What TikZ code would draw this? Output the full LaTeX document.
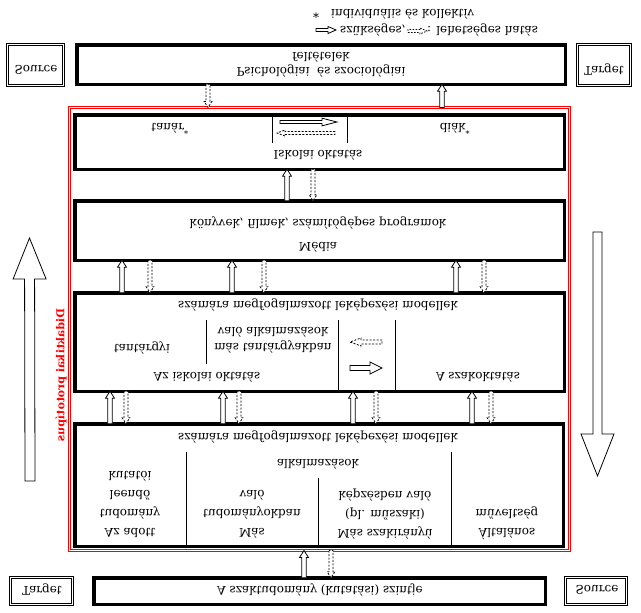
\documentclass[tikz,border=0pt]{standalone}
\usepackage{fontspec}
\setmainfont{DejaVu Serif}
\usetikzlibrary{calc}
\tikzstyle{box}=[draw,line width=3.5pt,inner sep=0pt,outer sep=0pt]
\tikzstyle{dbox}=[draw,double,double distance=1.4pt,line width=0.8pt,inner sep=0pt,outer sep=0pt]
\tikzstyle{txt}=[font=\fontsize{12}{15}\selectfont,align=center,inner sep=0pt]
\tikzstyle{col}=[txt,font=\fontsize{12}{19}\selectfont]
\tikzstyle{divider}=[line width=1pt]
\tikzset{blockarrow/.style n args={3}{draw,line width=0.8pt,fill=white,to path={
    ($(\tikztostart)!#1!90:(\tikztotarget)$)
    -- ($(\tikztotarget)!#3!(\tikztostart)!#1!-90:(\tikztostart)$)
    -- ($(\tikztotarget)!#3!(\tikztostart)!#2!-90:(\tikztostart)$)
    -- (\tikztotarget)
    -- ($(\tikztotarget)!#3!(\tikztostart)!#2!90:(\tikztostart)$)
    -- ($(\tikztotarget)!#3!(\tikztostart)!#1!90:(\tikztostart)$)
    -- ($(\tikztostart)!#1!-90:(\tikztotarget)$) -- cycle}}}
\tikzstyle{solidup}=[blockarrow={2.3pt}{4.5pt}{7pt}]
\tikzstyle{dashdown}=[blockarrow={2pt}{3.8pt}{6pt},dash pattern=on 2pt off 1.5pt]

\begin{document}
\begin{tikzpicture}[x=1pt,y=1pt,yscale=-1,every node/.append style={transform shape}]
  \useasboundingbox (0,0) rectangle (641,613);

  % levels
  \node[draw=red,double,double distance=1.4pt,line width=0.8pt,inner sep=0pt,outer sep=0pt,
        minimum width=500pt,minimum height=443pt] (frame) at (319.5,329) {};
  \node[box,minimum width=488.5pt,minimum height=39.5pt] (psy) at (321,64.5) {};
  \node[box,minimum width=489.5pt,minimum height=54.5pt] (isk) at (319.5,142) {};
  \node[box,minimum width=489.5pt,minimum height=59.5pt] (media) at (319.5,230.5) {};
  \node[box,minimum width=489.5pt,minimum height=98.5pt] (mid) at (319.5,342) {};
  \node[box,minimum width=488.5pt,minimum height=122.5pt] (low) at (319,485) {};
  \node[box,minimum width=451.5pt,minimum height=26.5pt] (szak) at (319.5,591) {};

  \node[dbox,minimum width=55.9pt,minimum height=40.9pt] (srcA) at (35.5,65) {};
  \node[dbox,minimum width=52.9pt,minimum height=40.9pt] (tgtA) at (604,65) {};
  \node[dbox,minimum width=61.9pt,minimum height=26.9pt] (tgtB) at (41.5,591) {};
  \node[dbox,minimum width=60.9pt,minimum height=26.9pt] (srcB) at (596,591) {};
  \node[txt] at (36,70) {Source};
  \node[txt] at (604,70) {Target};
  \node[txt] at (42,590) {Target};
  \node[txt] at (597,590) {Source};

  % texts
  \node[txt] (psytxt) at (321,64.5) {Psichológiai~ és szociológiai\\feltételek};
  \node[txt] (tanar) at (170,129) {tanár\textsuperscript{*}};
  \node[txt] (diak) at (455,129) {diák\textsuperscript{*}};
  \node[txt] (isktxt) at (318,155) {Iskolai oktatás};
  \node[txt] (medtitle) at (318,247) {Média};
  \node[txt] (medsub) at (318,223) {könyvek, filmek, számítógépes programok};

  \node[txt] (midhead) at (318,305) {számára megfogalmazott leképezési modellek};
  \node[txt] (tantargyi) at (142,348) {tantárgyi};
  \node[txt,font=\fontsize{12}{16}\selectfont] (masttxt) at (273,340) {más tantárgyakban\\való alkalmazások};
  \node[txt] (iskokt) at (207,377) {Az iskolai oktatás};
  \node[txt] (szakokt) at (478,377) {A szakoktatás};

  \node[txt] (lowhead) at (318,437) {számára megfogalmazott leképezési modellek};
  \node[txt] (alk) at (318,464) {alkalmazások};
  \node[col] (colA) at (130,504) {Az adott\\tudomány\\leendő\\kutatói};
  \node[col] (colB) at (252,514) {Más\\tudományokban\\való};
  \node[col] (colC) at (385,514) {Más szakirányú\\(pl. műszaki)\\képzésben való};
  \node[col] (colD) at (507,523.5) {Általános\\műveltség};

  \node[txt] (szaktxt) at (320,590) {A szaktudomány (kutatási) szintje};

  \node[txt,red,font=\bfseries\fontsize{11}{13}\selectfont,rotate=90] (proto) at (61,375) {Didaktikai prototípus};

  % dividers
  \draw[divider] (272,115) -- (272,143);
  \draw[divider] (347,115) -- (347,143);
  \draw[divider] (206,320) -- (206,364);
  \draw[divider] (338,320) -- (338,0 |- mid.north);
  \draw[divider] (395,320) -- (395,0 |- mid.north);
  \draw[divider] (186,452) -- (186,0 |- low.north);
  \draw[divider] (318,478) -- (318,0 |- low.north);
  \draw[divider] (451,452) -- (451,0 |- low.north);

  % arrows between the levels
  \draw[solidup] (442,0 |- frame.south) to (442,0 |- psy.north);
  \draw[dashdown] (208,0 |- psy.north) to (208,0 |- frame.south);
  \draw[solidup] (287,0 |- media.south) to (287,0 |- isk.north);
  \draw[dashdown] (313,0 |- isk.north) to (313,0 |- media.south);
  \foreach \x/\xd in {122/150, 232/264, 456/484}{
    \draw[solidup] (\x,0 |- mid.south) to (\x,0 |- media.north);
    \draw[dashdown] (\xd,0 |- media.north) to (\xd,0 |- mid.south);
  }
  \foreach \x/\xd in {110/126, 223/239, 353/376, 472/491}{
    \draw[solidup] (\x,0 |- low.south) to (\x,0 |- mid.north);
    \draw[dashdown] (\xd,0 |- mid.north) to (\xd,0 |- low.south);
  }
  \draw[solidup] (304,0 |- szak.south) to (304,0 |- frame.north);
  \draw[dashdown] (331,0 |- frame.north) to (331,0 |- szak.south);

  % arrows inside the cells
  \coordinate (ia) at (280,122); \coordinate (ib) at (337,122);
  \coordinate (ic) at (335,133); \coordinate (id) at (277,133);
  \draw[blockarrow={1.5pt}{3.8pt}{15pt}] (ia) to (ib);
  \draw[blockarrow={1.5pt}{3pt}{8pt},dash pattern=on 2pt off 1.5pt] (ic) to (id);
  \coordinate (ma) at (350,368); \coordinate (mb) at (382,368);
  \coordinate (mc) at (382,342); \coordinate (md) at (350,342);
  \draw[blockarrow={2.5pt}{6pt}{12pt}] (ma) to (mb);
  \draw[blockarrow={2pt}{4pt}{11pt},dash pattern=on 2pt off 1.5pt] (mc) to (md);

  % side arrows
  \coordinate (lb) at (30,481); \coordinate (lt) at (29.5,238);
  \coordinate (rt) at (597.5,232); \coordinate (rb) at (597.5,476);
  \draw[blockarrow={5pt}{16.5pt}{41pt}] (lb) to (lt);
  \draw[blockarrow={4.5pt}{16.5pt}{42pt}] (rt) to (rb);

  % legend
  \node[txt,anchor=west] (leg1) at (313,14) {*\quad individuális és kollektív};
  \coordinate (la) at (316,30); \coordinate (lc) at (336,30);
  \draw[blockarrow={1.5pt}{3.5pt}{8pt}] (la) to (lc);
  \node[txt,anchor=west] (leg2) at (340,30) {szükséges,};
  \coordinate (le) at (408,31); \coordinate (lf) at (427,31);
  \draw[blockarrow={1.5pt}{3pt}{7pt},dash pattern=on 1.5pt off 1.5pt] (le) to (lf);
  \node[txt,anchor=west] (leg3) at (427,30) {: lehetséges hatás};
\end{tikzpicture}
\end{document}
